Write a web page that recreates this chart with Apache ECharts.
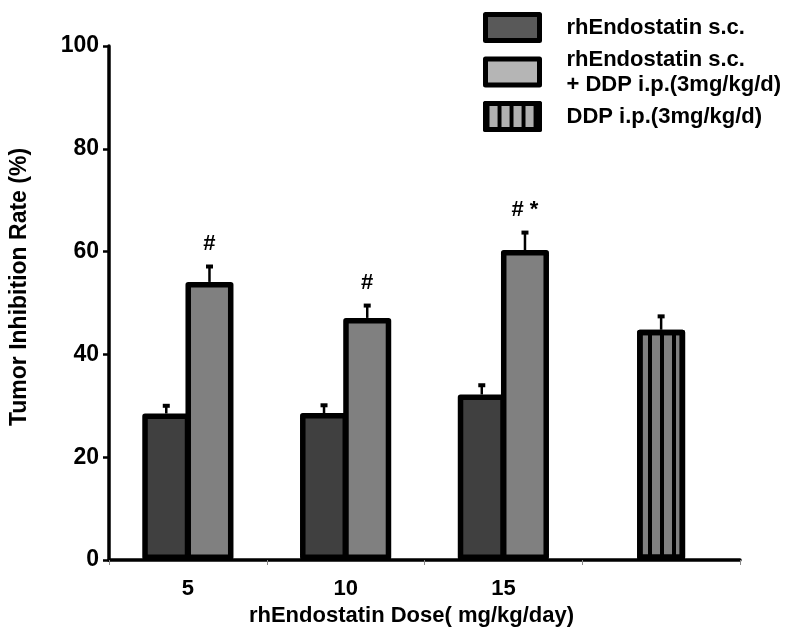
<!DOCTYPE html>
<html>
<head>
<meta charset="utf-8">
<script src="https://cdn.jsdelivr.net/npm/echarts@6/dist/echarts.min.js"></script>
<style>
html,body{margin:0;padding:0;background:#fff;}
#chart{width:798px;height:635px;}
</style>
</head>
<body>
<div id="chart"></div>
<script>
const categories = ['5', '10', '15', ''];
const seriesNames = ['rhEndostatin s.c.', 'rhEndostatin s.c.\n+ DDP i.p.(3mg/kg/d)', 'DDP i.p.(3mg/kg/d)'];
const rhEndo = [28.5, 28.6, 32.2, null];
const rhEndoErr = [1.5, 1.5, 1.8, null];
const combo = [54.1, 47.1, 60.3, null];
const comboErr = [3.0, 2.4, 3.4, null];
const ddp = [null, null, null, 44.8];
const ddpErr = [null, null, null, 2.6];
const comboMarks = ['#', '#', '# *', ''];
const yMin = 0, yMax = 100, yInterval = 20;

const FONT = 'Liberation Sans';
const BAR_W = 48;
const GAP_PCT = -10;
const pairOffset = (BAR_W * 2 + BAR_W * GAP_PCT / 100) / 2 - BAR_W / 2;

function toBar(arr) { return arr.map(v => v == null ? '-' : v); }

function errSeries(vals, errs, marks, offset, xAxisIndex) {
  const data = [];
  vals.forEach((v, i) => { if (v != null) data.push([i, v, errs[i]]); });
  return {
    type: 'custom',
    xAxisIndex: xAxisIndex,
    z: 5,
    silent: true,
    data: data,
    renderItem: function (params, api) {
      const ci = api.value(0);
      const p = api.coord([ci, api.value(1)]);
      const t = api.coord([ci, api.value(1) + api.value(2)]);
      const x = p[0] + offset;
      const children = [
        { type: 'line', shape: { x1: x, y1: p[1], x2: x, y2: t[1] }, style: { stroke: '#000', lineWidth: 2.5 } },
        { type: 'rect', shape: { x: x - 3.5, y: t[1] - 2, width: 7, height: 4 }, style: { fill: '#000' } }
      ];
      const m = marks ? marks[ci] : '';
      if (m) {
        children.push({ type: 'text', style: { text: m, x: x, y: t[1] - 23, align: 'center', verticalAlign: 'middle', font: 'bold 22px "' + FONT + '"', fill: '#000' } });
      }
      return { type: 'group', children: children };
    }
  };
}

const chart = echarts.init(document.getElementById('chart'), null, { renderer: 'canvas' });
const border = { borderColor: '#000', borderWidth: 5.5 };

chart.setOption({
  animation: false,
  backgroundColor: '#fff',
  grid: { left: 107, right: 58, top: 46, bottom: 75 },
  legend: {
    orient: 'vertical',
    left: 478,
    top: 7,
    icon: 'rect',
    itemWidth: 54,
    itemHeight: 26,
    itemGap: 4,
    selectedMode: false,
    itemStyle: { borderColor: '#000', borderWidth: 5 },
    textStyle: { fontFamily: FONT, fontWeight: 'bold', fontSize: 22, color: '#000', lineHeight: 25, padding: [0, 0, 0, 22] },
    data: [
      { name: seriesNames[0], itemStyle: { color: '#595959' } },
      { name: seriesNames[1], itemStyle: { color: '#b5b5b5' } },
      { name: seriesNames[2], itemStyle: { color: '#b0b0b0' } }
    ]
  },
  xAxis: [
    {
      type: 'category',
      data: categories,
      name: 'rhEndostatin Dose( mg/kg/day)',
      nameLocation: 'middle',
      nameGap: 44,
      nameTextStyle: { fontFamily: FONT, fontWeight: 'bold', fontSize: 22, color: '#000', padding: [0, 26, 0, 0] },
      axisLine: { lineStyle: { color: '#000', width: 3.5 } },
      axisTick: { show: true, interval: 0, length: 5, lineStyle: { color: '#888', width: 1 } },
      axisLabel: { fontFamily: FONT, fontWeight: 'bold', fontSize: 22, color: '#000', margin: 18 },
      splitLine: { show: false }
    },
    {
      type: 'category',
      data: categories,
      show: false,
      gridIndex: 0
    }
  ],
  yAxis: {
    type: 'value',
    min: yMin,
    max: yMax,
    interval: yInterval,
    name: 'Tumor Inhibition Rate (%)',
    nameLocation: 'middle',
    nameGap: 78,
    nameTextStyle: { fontFamily: FONT, fontWeight: 'bold', fontSize: 23, color: '#000', padding: [0, 0, 0, 32] },
    axisLine: { show: true, lineStyle: { color: '#000', width: 3.5 } },
    axisTick: { show: true, length: 6, lineStyle: { color: '#000', width: 2.5 } },
    axisLabel: { fontFamily: FONT, fontWeight: 'bold', fontSize: 23, color: '#000', margin: 10 },
    splitLine: { show: false }
  },
  series: [
    {
      name: seriesNames[0], type: 'bar', data: toBar(rhEndo), barWidth: BAR_W, barGap: GAP_PCT + '%',
      itemStyle: Object.assign({ color: '#404040', borderJoin: 'round' }, border)
    },
    {
      name: seriesNames[1], type: 'bar', data: toBar(combo), barWidth: BAR_W, barGap: GAP_PCT + '%',
      itemStyle: Object.assign({ color: '#808080', borderJoin: 'round' }, border)
    },
    {
      name: seriesNames[2], type: 'bar', data: toBar(ddp), barWidth: BAR_W, xAxisIndex: 1,
      itemStyle: Object.assign({
        color: '#808080', borderJoin: 'round',
        decal: { symbol: 'rect', symbolSize: 1, color: '#000', dashArrayX: [3.5, 7.5], dashArrayY: [4, 0], rotation: 0 }
      }, border)
    },
    errSeries(rhEndo, rhEndoErr, null, -pairOffset, 0),
    errSeries(combo, comboErr, comboMarks, pairOffset, 0),
    errSeries(ddp, ddpErr, null, 0, 1)
  ]
});
</script>
</body>
</html>
